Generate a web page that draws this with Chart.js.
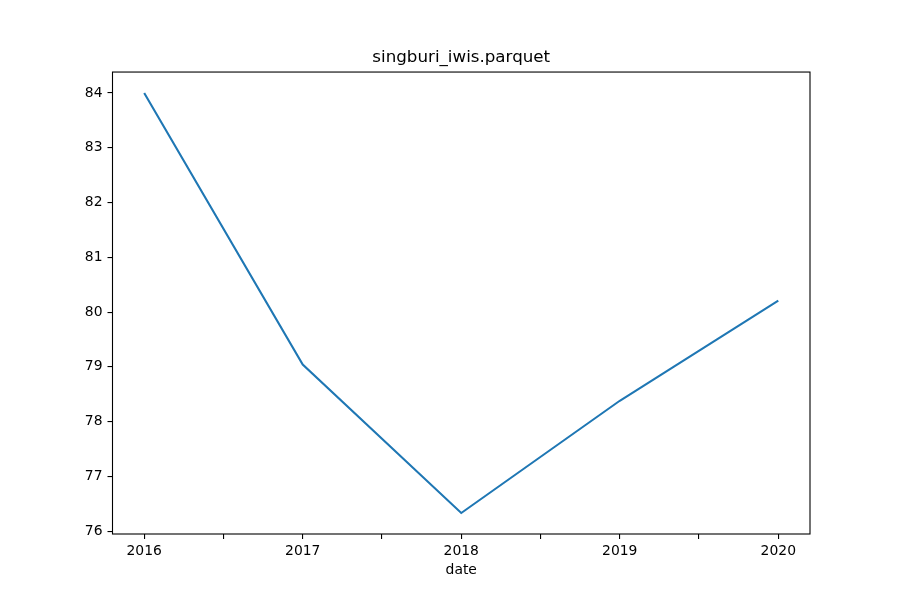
<!DOCTYPE html>
<html>
<head>
<meta charset="utf-8">
<script src="https://cdn.jsdelivr.net/npm/chart.js@4/dist/chart.umd.min.js"></script>
<style>
  html, body { margin: 0; padding: 0; background: #fff; }
  #chart { display: block; }
</style>
</head>
<body>
<canvas id="chart" width="900" height="600"></canvas>
<script>
const YEARS  = [2016, 2017, 2018, 2019, 2020];
const VALUES = [84.0, 79.04, 76.33, 78.38, 80.21];
const TITLE  = "singburi_iwis.parquet";
const X_LABEL = "date";

const FONT = "'DejaVu Sans', sans-serif";

// axes frame like matplotlib spines
const framePlugin = {
  id: "frame",
  afterDraw(chart) {
    const { ctx, chartArea: a } = chart;
    ctx.save();
    ctx.strokeStyle = "#000";
    ctx.lineWidth = 1.1;
    ctx.strokeRect(a.left, a.top, a.right - a.left, a.bottom - a.top);
    ctx.restore();
  }
};

const yMin = Math.min(...VALUES), yMax = Math.max(...VALUES);
const yPad = (yMax - yMin) * 0.05;
const xPad = (YEARS[YEARS.length - 1] - YEARS[0]) * 0.05;

new Chart(document.getElementById("chart"), {
  type: "line",
  data: {
    datasets: [{
      data: YEARS.map((y, i) => ({ x: y, y: VALUES[i] })),
      borderColor: "#1f77b4", borderWidth: 2.1, pointRadius: 0, tension: 0, fill: false
    }]
  },
  options: {
    responsive: false, animation: false, devicePixelRatio: 1,
    layout: { padding: { left: 0, right: 90, top: 0, bottom: 0 } },
    plugins: {
      legend: { display: false }, tooltip: { enabled: false },
      title: {
        display: true, text: TITLE, color: "#000", fullSize: false,
        font: { family: FONT, size: 16.7, weight: "normal", lineHeight: 1.2 },
        padding: { top: 48, bottom: 4 }
      }
    },
    scales: {
      x: {
        type: "linear", min: YEARS[0] - xPad, max: YEARS[YEARS.length - 1] + xPad,
        border: { display: false },
        grid: { drawOnChartArea: false, drawTicks: true, tickLength: 5, color: "#000", lineWidth: 1.1 },
        ticks: {
          stepSize: 0.5, includeBounds: false, autoSkip: false, maxRotation: 0, padding: 4,
          color: "#000", font: { family: FONT, size: 13.9 },
          callback: v => (Math.abs(v % 1) < 1e-9 ? String(Math.round(v)) : "")
        },
        title: { display: true, text: X_LABEL, color: "#000", font: { family: FONT, size: 13.9 }, padding: { top: 1, bottom: 21 } },
        afterFit: s => { s.height = 66; }
      },
      y: {
        min: yMin - yPad, max: yMax + yPad,
        border: { display: false },
        grid: { drawOnChartArea: false, drawTicks: true, tickLength: 5, color: "#000", lineWidth: 1.1 },
        ticks: { stepSize: 1, includeBounds: false, padding: 5, color: "#000", font: { family: FONT, size: 13.9 } },
        afterFit: s => { s.width = 112.5; }
      }
    }
  },
  plugins: [framePlugin]
});
</script>
</body>
</html>
